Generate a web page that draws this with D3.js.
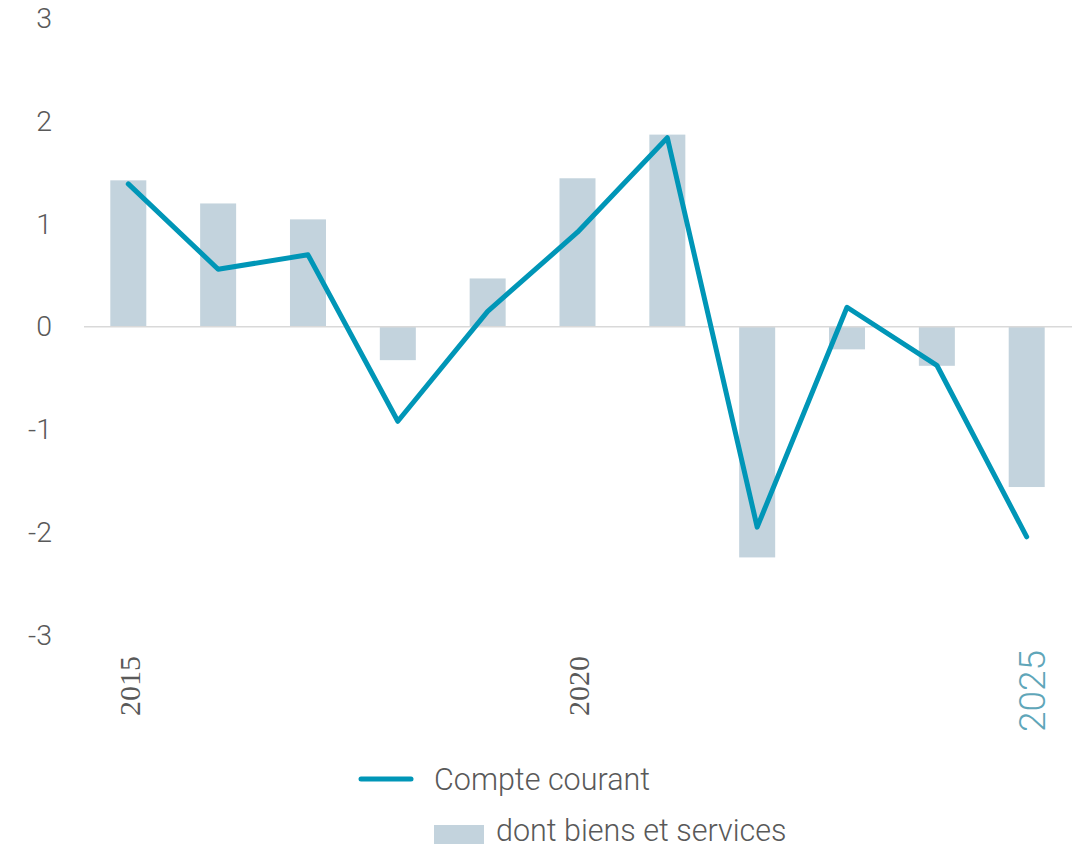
<!DOCTYPE html>
<html>
<head>
<meta charset="utf-8">
<script src="https://cdn.jsdelivr.net/npm/d3@7"></script>
<style>
  body { margin: 0; background: #fff; }
  svg { display: block; }
  .tick-label { font-family: Roboto, sans-serif; font-weight: 300; fill: #595959; }
  .legend-label { font-family: Roboto, sans-serif; font-weight: 300; fill: #595959; font-size: 30.5px; }
</style>
</head>
<body>
<div id="chart"></div>
<script>
(function () {

  // data
  const years = [2015, 2016, 2017, 2018, 2019, 2020, 2021, 2022, 2023, 2024, 2025];
  const compteCourant = [1.39, 0.56, 0.70, -0.92, 0.15, 0.92, 1.84, -1.95, 0.19, -0.375, -2.045];
  const biensServices = [1.425, 1.20, 1.045, -0.325, 0.47, 1.445, 1.87, -2.245, -0.22, -0.38, -1.56];
  const yTicks = [-3, -2, -1, 0, 1, 2, 3];
  const xLabels = [2015, 2020, 2025];
  const seriesNames = ["Compte courant", "dont biens et services"];

  // chart settings
  const svg_width = 1076;
  const svg_height = 847;
  const lineColor = "#0096b7";
  const barColor = "#c3d3dd";

  const x = d3.scalePoint()
    .domain(years)
    .range([128.3, 1026.7]);
  const barWidth = 36;

  const y = d3.scaleLinear()
    .domain([-3, 3])
    .range([635, 18.5]);

  const svg = d3.select("#chart").append("svg")
    .attr("width", svg_width)
    .attr("height", svg_height);

  const data = years.map((yr, i) => ({ year: yr, cc: compteCourant[i], bs: biensServices[i] }));

  // bars
  svg.selectAll(".bar")
    .data(data)
    .enter().append("rect")
    .attr("class", "bar")
    .attr("x", d => x(d.year) - barWidth / 2)
    .attr("y", d => y(Math.max(0, d.bs)))
    .attr("width", barWidth)
    .attr("height", d => Math.abs(y(d.bs) - y(0)))
    .attr("fill", barColor);

  // zero line
  svg.append("line")
    .attr("x1", 84)
    .attr("x2", 1072)
    .attr("y1", y(0))
    .attr("y2", y(0))
    .attr("stroke", "#d9d9d9")
    .attr("stroke-width", 1.5);

  // line
  const line = d3.line()
    .x(d => x(d.year))
    .y(d => y(d.cc));

  svg.append("path")
    .datum(data)
    .attr("fill", "none")
    .attr("stroke", lineColor)
    .attr("stroke-width", 5)
    .attr("stroke-linejoin", "round")
    .attr("stroke-linecap", "round")
    .attr("d", line);

  // y axis
  const yAxis = svg.append("g")
    .attr("transform", "translate(52,0)")
    .call(d3.axisLeft(y).tickValues(yTicks).tickSize(0).tickPadding(0).tickFormat(d => String(d)));
  yAxis.select(".domain").remove();
  yAxis.selectAll("text")
    .attr("class", "tick-label")
    .attr("font-size", null)
    .style("font-size", "28.5px");

  // x labels (rotated)
  svg.selectAll(".x-label")
    .data(xLabels)
    .enter().append("text")
    .attr("class", "x-label")
    .attr("transform", d => "translate(" + x(d) + "," + (d === 2025 ? 650 : 656) + ") rotate(-90)")
    .attr("text-anchor", "end")
    .attr("dy", d => d === 2025 ? "0.5em" : "0.38em")
    .style("font-family", d => d === 2025 ? "Roboto, sans-serif" : "'Liberation Serif', serif")
    .style("font-weight", d => d === 2025 ? 300 : 400)
    .style("font-size", d => d === 2025 ? "37px" : "30px")
    .style("fill", d => d === 2025 ? "#5fa6b9" : "#595959")
    .text(d => d);

  // legend
  const legend = svg.append("g");
  legend.append("line")
    .attr("x1", 361).attr("x2", 411)
    .attr("y1", 779).attr("y2", 779)
    .attr("stroke", lineColor)
    .attr("stroke-width", 5)
    .attr("stroke-linecap", "round");
  legend.append("text")
    .attr("class", "legend-label")
    .attr("x", 434)
    .attr("y", 790)
    .text(seriesNames[0]);

  legend.append("rect")
    .attr("x", 434).attr("y", 825)
    .attr("width", 50).attr("height", 19)
    .attr("fill", barColor);
  legend.append("text")
    .attr("class", "legend-label")
    .attr("x", 496)
    .attr("y", 841)
    .text(seriesNames[1]);

})();
</script>
</body>
</html>
